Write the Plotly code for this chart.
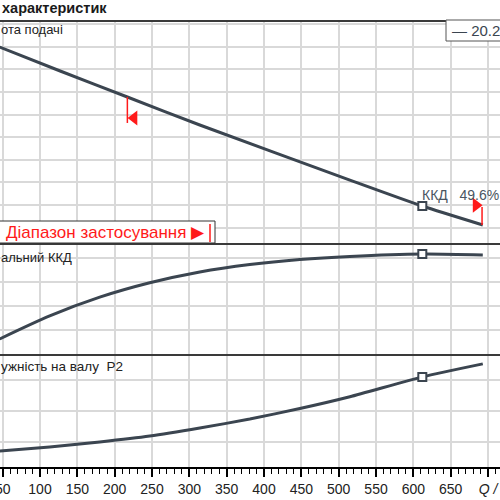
import plotly.graph_objects as go
from plotly.subplots import make_subplots

# ---------------- data ----------------
q_head = [46, 127, 217, 314, 515, 612, 693]
head = [19.97, 17.85, 15.55, 13.07, 8.20, 5.90, 4.22]

q_eff = [46, 113, 180, 247, 314, 381, 448, 515, 612, 693]
eff = [14.2, 23.8, 31.6, 37.6, 42.1, 45.2, 47.3, 48.6, 49.6, 49.2]

q_pow = [46, 113, 180, 247, 314, 381, 448, 515, 612, 693]
power = [7.1, 8.4, 10.0, 11.9, 14.5, 17.4, 20.8, 24.6, 31.0, 35.2]

q_opt = 612
h_opt = 5.90
eff_opt = 49.6
p_opt = 31.0

q_min = 217          # start of application range
h_min = 15.55
q_max = 693          # end of application range
h_max = 4.22

x_tickvals = [50, 100, 150, 200, 250, 300, 350, 400, 450, 500, 550, 600, 650, 700]
x_ticktext = ["50", "100", "150", "200", "250", "300", "350", "400", "450",
              "500", "550", "600", "650", "<i>Q /</i>"]

# ---------------- style ----------------
CURVE = "#3b4550"
GRID = "#d9d9d9"
RED = "#ff1a1a"
FONT = "Liberation Sans, Arial, sans-serif"

TOP, BOTTOM = 21, 467
H_PLOT = BOTTOM - TOP


def py(ypx):
    return (BOTTOM - ypx) / H_PLOT


fig = make_subplots(rows=3, cols=1, shared_xaxes=True, vertical_spacing=0)

fig.add_trace(go.Scatter(x=q_head, y=head, mode="lines",
                         line=dict(color=CURVE, width=3, shape="spline", smoothing=0.6),
                         hoverinfo="skip"), row=1, col=1)
fig.add_trace(go.Scatter(x=q_eff, y=eff, mode="lines",
                         line=dict(color=CURVE, width=3, shape="spline", smoothing=0.8),
                         hoverinfo="skip"), row=2, col=1)
fig.add_trace(go.Scatter(x=q_pow, y=power, mode="lines",
                         line=dict(color=CURVE, width=3, shape="spline", smoothing=0.6),
                         hoverinfo="skip"), row=3, col=1)

# operating point markers
for r, yv in [(1, h_opt), (2, eff_opt), (3, p_opt)]:
    fig.add_trace(go.Scatter(x=[q_opt], y=[yv], mode="markers",
                             marker=dict(symbol="square", size=8, color="white",
                                         line=dict(color=CURVE, width=2)),
                             hoverinfo="skip"), row=r, col=1)

# application range marks (red)
fig.add_trace(go.Scatter(x=[q_min, q_min], y=[h_min, h_min - 2.3], mode="lines",
                         line=dict(color=RED, width=1.5), hoverinfo="skip"), row=1, col=1)
fig.add_trace(go.Scatter(x=[q_min + 9], y=[h_min - 1.85], mode="markers",
                         marker=dict(symbol="triangle-left", size=13, color=RED),
                         hoverinfo="skip"), row=1, col=1)
fig.add_trace(go.Scatter(x=[q_max - 1, q_max - 1], y=[h_max, h_max + 1.6], mode="lines",
                         line=dict(color=RED, width=1.5), hoverinfo="skip"), row=1, col=1)
fig.add_trace(go.Scatter(x=[q_max - 9], y=[h_max + 1.75], mode="markers",
                         marker=dict(symbol="triangle-right", size=13, color=RED),
                         hoverinfo="skip"), row=1, col=1)

# ---------------- axes ----------------
q_lo = 100 + (0 - 40) / 0.7467
q_hi = 100 + (500 - 40) / 0.7467

for r in (1, 2, 3):
    fig.update_xaxes(range=[q_lo, q_hi], showgrid=True, gridcolor=GRID, gridwidth=1.5,
                     tickmode="array", tickvals=x_tickvals, zeroline=False,
                     automargin=False, row=r, col=1)
fig.update_xaxes(showticklabels=False, ticks="", row=1, col=1)
fig.update_xaxes(showticklabels=False, ticks="", row=2, col=1)
fig.update_xaxes(ticktext=x_ticktext, ticks="outside", ticklen=8, tickwidth=1.5,
                 tickcolor="black", showline=True, linecolor="black", linewidth=1.5,
                 ticklabeloverflow="allow",
                 tickfont=dict(family=FONT, size=14, color="#222222"),
                 minor=dict(tickmode="linear", tick0=0, dtick=10, ticks="outside",
                            ticklen=5, tickwidth=1, tickcolor="black", showgrid=False),
                 row=3, col=1)

h_top = 20 + (46.7 - TOP) / 11.3
h_bot = 20 - (244 - 46.7) / 11.3
fig.update_yaxes(range=[h_bot, h_top], tick0=0, dtick=2, row=1, col=1)
e_top = 49.6 + (254 - 244) / 2.4
e_bot = 49.6 + (254 - 355) / 2.4
fig.update_yaxes(range=[e_bot, e_top], tick0=7.93, dtick=10, row=2, col=1)
p_top = (473 - 355) / 31 * 10
p_bot = (473 - 467) / 31 * 10
fig.update_yaxes(range=[p_bot, p_top], tick0=0, dtick=10, row=3, col=1)
for r in (1, 2, 3):
    fig.update_yaxes(showticklabels=False, ticks="", showgrid=True, gridcolor=GRID,
                     gridwidth=1.5, zeroline=False, showline=False, automargin=False,
                     row=r, col=1)

fig.update_layout(
    yaxis=dict(domain=[py(244), 1]),
    yaxis2=dict(domain=[py(355), py(244)]),
    yaxis3=dict(domain=[0, py(355)]),
)

# ---------------- shapes ----------------
shapes = []
for ypx in (TOP, 244, 355):
    shapes.append(dict(type="line", xref="paper", yref="paper", x0=-0.01, x1=1.01,
                       y0=py(ypx), y1=py(ypx), line=dict(color="#3a3a3a", width=2)))
# application range box
shapes.append(dict(type="rect", xref="paper", yref="paper", x0=-0.01, x1=215 / 500,
                   y0=py(243), y1=py(221), fillcolor="white",
                   line=dict(color="#333333", width=1)))
shapes.append(dict(type="line", xref="paper", yref="paper", x0=210 / 500, x1=210 / 500,
                   y0=py(242), y1=py(224), line=dict(color=RED, width=1.5)))
# legend box
shapes.append(dict(type="rect", xref="paper", yref="paper", x0=446 / 500, x1=1.05,
                   y0=py(41), y1=py(20), fillcolor="white",
                   line=dict(color="#555555", width=1)))
fig.update_layout(shapes=shapes)

# ---------------- annotations ----------------
ann = []


def text(x_px, y_px, s, size=13, color="#222222", bold=False, anchor="left"):
    ann.append(dict(xref="paper", yref="paper", x=x_px / 500, y=py(y_px), text=s,
                    showarrow=False, xanchor=anchor, yanchor="middle",
                    font=dict(family=FONT, size=size, color=color,
                              weight="bold" if bold else "normal")))


text(0, 8, "характеристик", size=14.5, color="#1a1a1a", bold=True)
text(-1, 29, "ота подачі", size=13)
text(-1, 257, "альний ККД", size=13)
text(-1, 366, "ужність на валу\u00a0\u00a0P2", size=13.5)
text(4, 232, "Діапазон застосування \u25B6", size=17, color=RED)
text(450, 31, "— 20.2", size=15, color="#3b4550")

ann.append(dict(xref="x", yref="y", x=q_opt, y=h_opt, text="ККД\u00a0\u00a0\u00a049.6%",
                showarrow=False, xanchor="left", yanchor="bottom", xshift=-2, yshift=1,
                font=dict(family=FONT, size=14, color="#4a5561")))
fig.update_layout(annotations=ann)

fig.update_layout(width=500, height=500, margin=dict(l=0, r=0, t=TOP, b=500 - BOTTOM, pad=0),
                  plot_bgcolor="white", paper_bgcolor="white", showlegend=False)

fig.write_html("out.html")
